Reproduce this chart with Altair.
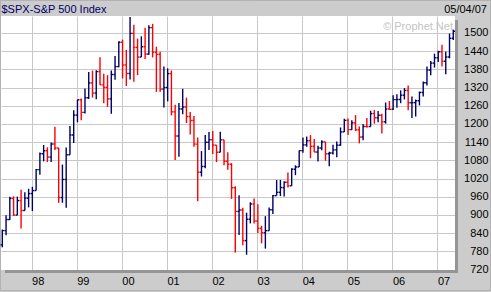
import altair as alt
import pandas as pd

# ---- data: S&P 500 monthly bars, May 1997 .. May 2007 ----
FIRST_MONTH = "1997-05"
OPEN = [801.34, 848.28, 885.14, 954.29, 899.47, 947.28, 914.62, 955.40,
        970.43, 980.28, 1049.34, 1101.75, 1111.75, 1090.82, 1133.84, 1120.67, 957.28, 1017.01, 1098.67, 1163.63,
        1229.23, 1279.64, 1238.33, 1286.37, 1335.18, 1301.84, 1372.71, 1328.72, 1320.41, 1282.71, 1362.93, 1388.91,
        1469.25, 1394.46, 1366.42, 1498.58, 1452.43, 1420.60, 1454.60, 1430.83, 1517.68, 1436.51, 1429.40, 1314.95,
        1320.28, 1366.01, 1239.94, 1160.33, 1249.46, 1255.82, 1224.42, 1211.23, 1133.58, 1040.94, 1059.78, 1139.45,
        1148.08, 1130.20, 1106.73, 1147.39, 1076.92, 1067.14, 989.82, 911.62, 916.07, 815.28, 885.76, 936.31,
        879.82, 855.70, 841.15, 848.18, 916.92, 963.59, 974.50, 990.31, 1008.01, 995.97, 1050.71, 1058.20,
        1111.92, 1131.13, 1144.94, 1126.21, 1107.30, 1120.68, 1140.84, 1101.72, 1104.24, 1114.58, 1130.20, 1173.82,
        1211.92, 1181.27, 1203.60, 1180.59, 1156.85, 1191.50, 1191.33, 1234.18, 1220.33, 1228.81, 1207.01, 1249.48,
        1248.29, 1280.08, 1280.66, 1294.83, 1310.61, 1270.09, 1270.20, 1276.66, 1303.82, 1335.85, 1377.94, 1400.63,
        1418.30, 1438.24, 1406.82, 1420.86, 1482.37]
HIGH = [851.87, 898.70, 960.32, 961.37, 960.46, 983.12, 974.57, 986.25,
        992.65, 1051.66, 1105.65, 1130.52, 1123.10, 1138.49, 1190.58, 1121.16, 1066.11, 1122.70, 1192.97, 1244.93,
        1280.37, 1283.76, 1316.55, 1371.56, 1375.98, 1376.70, 1420.33, 1365.71, 1361.09, 1376.68, 1424.12, 1473.10,
        1478.00, 1444.55, 1552.87, 1527.19, 1481.51, 1488.93, 1517.32, 1525.21, 1530.09, 1454.82, 1438.46, 1389.06,
        1383.37, 1376.38, 1263.47, 1269.30, 1315.93, 1286.62, 1239.78, 1226.27, 1155.40, 1110.61, 1163.38, 1173.62,
        1176.55, 1130.20, 1173.94, 1147.84, 1106.59, 1070.74, 994.46, 965.00, 924.02, 907.44, 941.82, 954.28,
        935.05, 864.64, 895.90, 924.24, 965.38, 1015.33, 1015.41, 1011.01, 1040.29, 1053.79, 1063.65, 1112.56,
        1155.38, 1158.98, 1163.23, 1150.57, 1127.74, 1146.34, 1140.84, 1108.60, 1131.54, 1142.05, 1188.46, 1217.33,
        1217.80, 1212.44, 1229.11, 1191.88, 1199.56, 1219.59, 1243.72, 1245.86, 1243.13, 1233.34, 1270.64, 1275.80,
        1294.90, 1297.57, 1310.88, 1318.16, 1326.70, 1290.68, 1280.42, 1306.74, 1340.28, 1389.45, 1407.89, 1431.81,
        1441.61, 1461.57, 1438.89, 1498.02, 1510.34]
LOW = [793.21, 833.14, 882.87, 896.30, 899.47, 855.27, 914.62, 924.92,
       912.83, 980.28, 1032.55, 1076.70, 1074.39, 1074.67, 1114.30, 939.98, 939.98, 923.32, 1098.67, 1137.18,
       1205.46, 1211.89, 1234.72, 1282.57, 1287.00, 1281.41, 1328.72, 1268.37, 1256.26, 1233.70, 1345.67, 1387.38,
       1350.14, 1325.07, 1346.62, 1339.40, 1361.09, 1420.60, 1413.89, 1428.00, 1419.44, 1305.79, 1305.97, 1254.07,
       1274.62, 1228.33, 1081.19, 1091.99, 1232.00, 1203.03, 1165.54, 1124.87, 944.75, 1026.76, 1054.31, 1114.51,
       1101.15, 1074.36, 1106.73, 1063.46, 1048.96, 952.92, 775.68, 833.44, 800.20, 768.63, 872.05, 871.84,
       840.34, 806.29, 788.90, 847.85, 902.83, 963.59, 962.10, 960.84, 990.36, 995.97, 1031.20, 1058.20,
       1105.08, 1124.44, 1087.16, 1107.23, 1076.32, 1113.32, 1078.78, 1060.72, 1099.18, 1090.19, 1127.60, 1173.76,
       1163.75, 1180.95, 1176.92, 1136.15, 1146.18, 1188.30, 1191.33, 1201.07, 1205.35, 1168.20, 1201.07, 1246.59,
       1245.74, 1253.61, 1268.42, 1280.74, 1245.34, 1219.29, 1224.54, 1261.30, 1290.93, 1327.10, 1360.98, 1385.93,
       1403.97, 1389.42, 1363.98, 1416.37, 1476.70]
CLOSE = [848.28, 885.14, 954.29, 899.47, 947.28, 914.62, 955.40, 970.43,
         980.28, 1049.34, 1101.75, 1111.75, 1090.82, 1133.84, 1120.67, 957.28, 1017.01, 1098.67, 1163.63, 1229.23,
         1279.64, 1238.33, 1286.37, 1335.18, 1301.84, 1372.71, 1328.72, 1320.41, 1282.71, 1362.93, 1388.91, 1469.25,
         1394.46, 1366.42, 1498.58, 1452.43, 1420.60, 1454.60, 1430.83, 1517.68, 1436.51, 1429.40, 1314.95, 1320.28,
         1366.01, 1239.94, 1160.33, 1249.46, 1255.82, 1224.42, 1211.23, 1133.58, 1040.94, 1059.78, 1139.45, 1148.08,
         1130.20, 1106.73, 1147.39, 1076.92, 1067.14, 989.82, 911.62, 916.07, 815.28, 885.76, 936.31, 879.82,
         855.70, 841.15, 848.18, 916.92, 963.59, 974.50, 990.31, 1008.01, 995.97, 1050.71, 1058.20, 1111.92,
         1131.13, 1144.94, 1126.21, 1107.30, 1120.68, 1140.84, 1101.72, 1104.24, 1114.58, 1130.20, 1173.82, 1211.92,
         1181.27, 1203.60, 1180.59, 1156.85, 1191.50, 1191.33, 1234.18, 1220.33, 1228.81, 1207.01, 1249.48, 1248.29,
         1280.08, 1280.66, 1294.83, 1310.61, 1270.09, 1270.20, 1276.66, 1303.82, 1335.85, 1377.94, 1400.63, 1418.30,
         1438.24, 1406.82, 1420.86, 1482.37, 1505.62]

YEAR_LABELS = ["98", "99", "00", "01", "02", "03", "04", "05", "06", "07"]
Y_TICKS = list(range(720, 1501, 60))
TITLE = "$SPX-S&P 500 Index"
DATE_TEXT = "05/04/07"
WATERMARK = "\u00a9 Prophet.Net"

NAVY = "#000066"
RED = "#ff0000"
GRID = "#c8c8c8"

n = len(CLOSE)
months = pd.period_range(FIRST_MONTH, periods=n, freq="M")
df = pd.DataFrame({
    "month": months.strftime("%Y-%m"),
    "t": range(n),
    "open": OPEN, "high": HIGH, "low": LOW, "close": CLOSE,
})
df["col"] = [NAVY if c >= o else RED for o, c in zip(OPEN, CLOSE)]
TICK = 0.45
df["t0"] = df["t"] - TICK
df["t1"] = df["t"] + TICK

# year boundaries (index of January of each labelled year, drawn just before the bar)
jan_idx = [i - 0.2 for i, m in enumerate(months) if m.month == 1]
label_expr = ("['" + "','".join(YEAR_LABELS) + "'][round((datum.value - %s) / 12)]" % jan_idx[0])

xscale = alt.Scale(domain=[-0.346, 120.46], nice=False, zero=False)
yscale = alt.Scale(domain=[718.4, 1556], nice=False, zero=False)

xaxis = alt.Axis(values=jan_idx, tickCount=30, labelExpr=label_expr, grid=True, gridColor=GRID, gridWidth=1,
                 domain=False, ticks=False, tickSize=0, labelAlign="left", labelBaseline="top",
                 labelPadding=5, labelFont="Liberation Sans", labelFontSize=11, labelColor="#000000",
                 labelOverlap=False, labelFlush=False, title=None, orient="bottom")
yaxis = alt.Axis(values=Y_TICKS, tickCount=30, format="d", grid=True, gridColor=GRID, gridWidth=1, domain=False,
                 ticks=False, tickSize=0, labelAlign="right", labelBaseline="middle", labelPadding=33,
                 labelFont="Liberation Sans", labelFontSize=11, labelColor="#000000",
                 labelOverlap=False, labelFlush=False, title=None, orient="right")

base = alt.Chart(df)
SW = 1.4

hl = base.mark_rule(strokeWidth=SW).encode(
    x=alt.X("t:Q", scale=xscale, axis=xaxis),
    y=alt.Y("low:Q", scale=yscale, axis=yaxis),
    y2="high:Q",
    color=alt.Color("col:N", scale=None),
)
op = base.mark_rule(strokeWidth=SW).encode(
    x=alt.X("t0:Q", scale=xscale), x2="t:Q",
    y=alt.Y("open:Q", scale=yscale),
    color=alt.Color("col:N", scale=None),
)
cl = base.mark_rule(strokeWidth=SW).encode(
    x=alt.X("t:Q", scale=xscale), x2="t1:Q",
    y=alt.Y("close:Q", scale=yscale),
    color=alt.Color("col:N", scale=None),
)

one = pd.DataFrame({"k": [0]})
shadow_r = alt.Chart(one).mark_rect(color="#959595").encode(
    x=alt.value(454), x2=alt.value(457), y=alt.value(4), y2=alt.value(257))
shadow_b = alt.Chart(one).mark_rect(color="#959595").encode(
    x=alt.value(4), x2=alt.value(457), y=alt.value(254), y2=alt.value(257))
frame = alt.Chart(one).mark_rect(filled=False, stroke="#999999", strokeWidth=1, strokeDash=[1, 1]).encode(
    x=alt.value(-0.5), x2=alt.value(489.5), y=alt.value(-15.5), y2=alt.value(274.5))

title = alt.Chart(pd.DataFrame({"s": [TITLE]})).mark_text(
    align="left", baseline="alphabetic", font="Liberation Sans", fontSize=11, color="#000066").encode(
    x=alt.value(0.5), y=alt.value(-3.5), text="s:N")
date = alt.Chart(pd.DataFrame({"s": [DATE_TEXT]})).mark_text(
    align="right", baseline="alphabetic", font="Liberation Sans", fontSize=11, color="#000000").encode(
    x=alt.value(486), y=alt.value(-3.5), text="s:N")
wm = alt.Chart(pd.DataFrame({"s": [WATERMARK]})).mark_text(
    align="right", baseline="alphabetic", font="Liberation Sans", fontSize=11, color="#c4c4c4").encode(
    x=alt.value(452), y=alt.value(14), text="s:N")

chart = alt.layer(shadow_r, shadow_b, frame, wm, hl, op, cl, title, date).properties(
    width=454, height=254,
    autosize=alt.AutoSizeParams(type="none"),
    padding={"left": 1, "top": 16, "right": 36, "bottom": 22},
    background="#cccccc",
).configure_view(fill="white", strokeWidth=0)

chart.save("out.html", embed_options={"renderer": "svg", "actions": False})
